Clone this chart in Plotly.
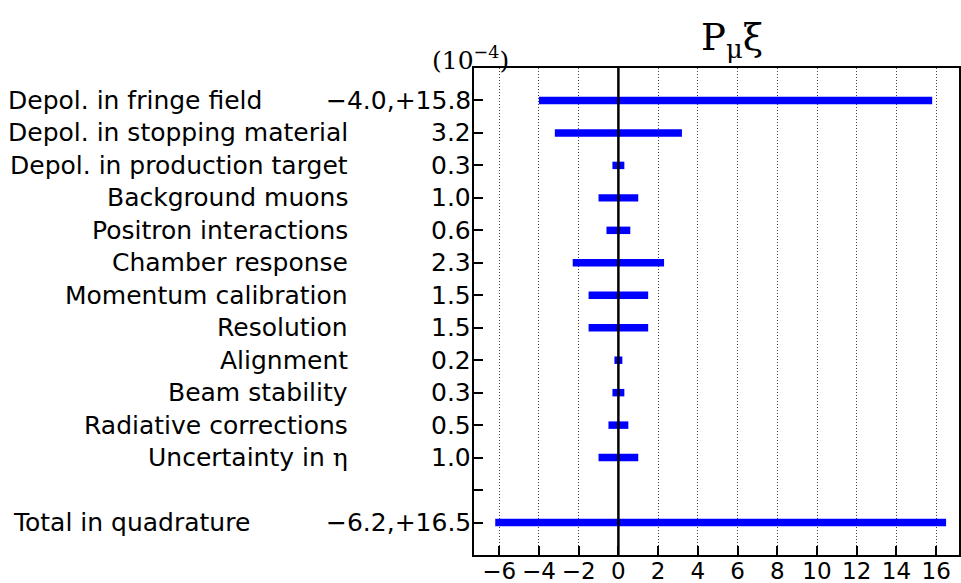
import plotly.graph_objects as go

# ---- data (units of 1e-4) ----
labels = [
    "Depol. in fringe field",
    "Depol. in stopping material",
    "Depol. in production target",
    "Background muons",
    "Positron interactions",
    "Chamber response",
    "Momentum calibration",
    "Resolution",
    "Alignment",
    "Beam stability",
    "Radiative corrections",
    "Uncertainty in η",
    "Total in quadrature",
]
lower = [4.0, 3.2, 0.3, 1.0, 0.6, 2.3, 1.5, 1.5, 0.2, 0.3, 0.5, 1.0, 6.2]
upper = [15.8, 3.2, 0.3, 1.0, 0.6, 2.3, 1.5, 1.5, 0.2, 0.3, 0.5, 1.0, 16.5]
x_ticks = list(range(-6, 17, 2))

# ---- derived ----
n = len(labels)
# rows from top; one empty row before the total
ypos = [n + 1 - i for i in range(n - 1)] + [1]
all_rows = list(range(1, n + 2))


def fmt(lo, hi):
    if abs(lo - hi) < 1e-9:
        return f"{hi:.1f}"
    return f"\u2212{lo:.1f},+{hi:.1f}"


value_text = [fmt(lo, hi) for lo, hi in zip(lower, upper)]

SANS = "DejaVu Sans"
SERIF = "DejaVu Serif"

fig = go.Figure()
fig.add_trace(
    go.Bar(
        orientation="h",
        y=ypos,
        base=[-v for v in lower],
        x=[lo + hi for lo, hi in zip(lower, upper)],
        width=0.23,
        marker=dict(color="#0000ff", line=dict(width=0)),
        hoverinfo="skip",
    )
)

# zero line above the bars
fig.add_shape(
    type="line", xref="x", yref="paper", x0=0, x1=0, y0=0, y1=1,
    line=dict(color="black", width=2.5), layer="above",
)

annotations = []
for i, (lab, val, y) in enumerate(zip(labels, value_text, ypos)):
    lab_html = lab.replace("η", f"<span style=\"font-family:'{SERIF}'\">η</span>")
    if i == 0 or i == n - 1:
        annotations.append(dict(
            text=lab_html, xref="paper", yref="y", x=0, y=y,
            xanchor="left", yanchor="middle",
            xshift=(-466 if i == 0 else -461),
            showarrow=False, borderpad=0, borderwidth=0,
            font=dict(family=SANS, size=25, color="black"),
        ))
    else:
        annotations.append(dict(
            text=lab_html, xref="paper", yref="y", x=0, y=y,
            xanchor="right", yanchor="middle", xshift=-126,
            showarrow=False, borderpad=0, borderwidth=0,
            font=dict(family=SANS, size=25, color="black"),
        ))
    annotations.append(dict(
        text=val, xref="paper", yref="y", x=0, y=y,
        xanchor="right", yanchor="middle", xshift=-3,
        showarrow=False, borderpad=0, borderwidth=0,
        font=dict(family=SANS, size=25, color="black"),
    ))

# title and unit
annotations.append(dict(
    text="P<sub>μ</sub>ξ", xref="paper", yref="paper", x=0.5, y=1,
    xanchor="center", yanchor="bottom", xshift=15, yshift=4,
    showarrow=False, borderpad=0, borderwidth=0,
    font=dict(family=SERIF, size=37, color="black"),
))
annotations.append(dict(
    text="(10<sup>\u22124</sup>)",
    xref="paper", yref="paper", x=0, y=1,
    xanchor="left", yanchor="bottom", xshift=-42, yshift=-7,
    showarrow=False, borderpad=0, borderwidth=0,
    font=dict(family=SERIF, size=25, color="black"),
))

fig.update_layout(
    width=961, height=583,
    margin=dict(l=474, r=2, t=68, b=28, autoexpand=False),
    paper_bgcolor="white", plot_bgcolor="white",
    showlegend=False,
    annotations=annotations,
    xaxis=dict(
        range=[-7.27, 17.15],
        tickvals=x_ticks,
        ticks="inside", ticklen=9, tickwidth=1.5, tickcolor="black",
        showline=True, linecolor="black", linewidth=2, mirror=True,
        showgrid=True, gridcolor="#444", gridwidth=1, griddash="1px,2px",
        zeroline=False, automargin=False,
        ticklabelstandoff=-6,
        tickfont=dict(family=SANS, size=23, color="black"),
        fixedrange=True,
    ),
    yaxis=dict(
        range=[0, n + 2],
        tickvals=all_rows,
        showticklabels=False,
        ticks="inside", ticklen=9, tickwidth=1.5, tickcolor="black",
        showline=True, linecolor="black", linewidth=2, mirror=True,
        showgrid=False, zeroline=False, automargin=False,
        fixedrange=True,
    ),
)

fig.write_html("out.html")
